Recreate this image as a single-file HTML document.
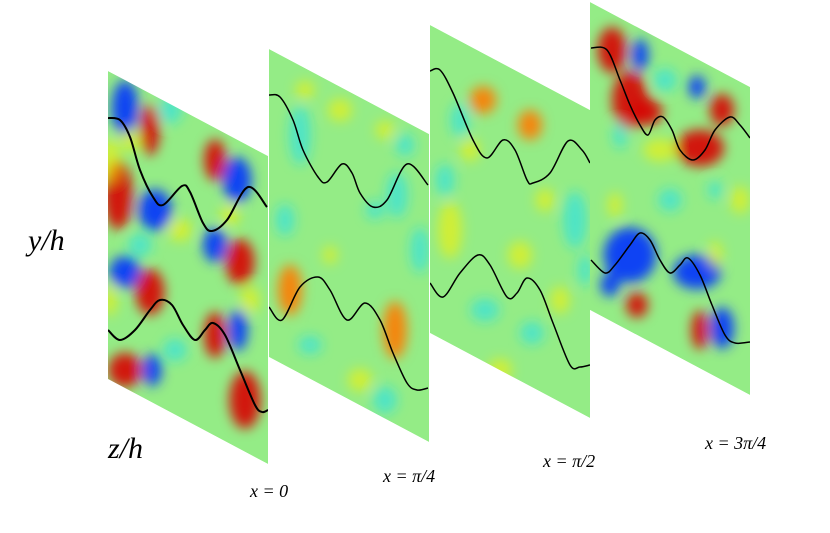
<!DOCTYPE html>
<html><head><meta charset="utf-8"><style>
html,body{margin:0;padding:0;background:#fff;width:830px;height:533px;overflow:hidden}
svg text{font-family:"Liberation Serif",serif;font-style:italic;fill:#000}
</style></head><body>
<svg id="fig" width="830" height="533" viewBox="0 0 830 533" xmlns="http://www.w3.org/2000/svg">
<defs>
<filter id="blur" x="-50%" y="-50%" width="200%" height="200%"><feGaussianBlur stdDeviation="6"/></filter>
</defs>
<g id="panels"></g>
<text x="28" y="250" font-size="30">y/h</text>
<text x="108" y="458" font-size="30">z/h</text>
<text x="250" y="497" font-size="18">x = 0</text>
<text x="383" y="482" font-size="18">x = π/4</text>
<text x="543" y="467" font-size="18">x = π/2</text>
<text x="705" y="449" font-size="18">x = 3π/4</text>
</svg>
<script>
const NS="http://www.w3.org/2000/svg";
const panelNames=["slice-x0","slice-x-pi4","slice-x-pi2","slice-x-3pi4"];
const panelLeft=[108,269,430,590];
const panelTop=[71,49,25,2];
const panelW=160, panelH=308, panelSkew=85;
const colors={r:"#d80000",o:"#ff7a00",y:"#f8f000",c:"#20e0f0",b:"#0030ff",d:"#0010c0"};
// blobs: [x,y,rx,ry,color]
const blobs=[
[[125,108,11,24,"b"],[150,130,8,22,"r"],[118,195,12,30,"r"],[110,160,8,20,"y"],[155,210,14,18,"b"],[215,160,9,18,"r"],[237,180,12,20,"b"],[215,245,10,15,"b"],[240,262,12,20,"r"],[125,272,13,14,"b"],[150,292,12,20,"r"],[125,370,14,15,"r"],[152,370,8,14,"b"],[215,335,9,20,"r"],[238,330,8,18,"b"],[245,400,13,25,"r"],[140,245,10,10,"c"],[180,230,10,10,"y"],[230,215,8,10,"y"],[170,110,10,12,"c"],[130,140,8,10,"y"],[250,300,8,12,"y"],[175,350,10,10,"c"],[110,300,6,14,"y"]],
[[300,135,9,26,"c"],[305,90,8,8,"y"],[385,130,8,8,"y"],[397,195,9,20,"c"],[290,290,10,22,"o"],[395,330,10,25,"o"],[385,400,10,12,"c"],[310,345,10,8,"c"],[375,210,8,8,"c"],[330,255,6,8,"y"],[340,110,10,10,"y"],[420,250,8,20,"c"],[285,220,8,14,"c"],[360,380,10,10,"y"],[405,145,8,10,"c"]],
[[483,100,11,12,"o"],[530,125,10,13,"o"],[485,310,12,10,"c"],[532,333,10,10,"c"],[450,230,10,25,"y"],[575,220,10,25,"c"],[460,120,8,15,"c"],[545,200,8,10,"y"],[520,255,10,12,"y"],[470,150,8,10,"y"],[560,300,8,12,"y"],[445,180,8,14,"c"],[585,270,6,14,"c"],[500,370,10,10,"y"]],
[[612,50,12,20,"r"],[630,100,15,25,"r"],[648,112,12,12,"r"],[700,148,20,16,"r"],[722,110,10,14,"r"],[640,55,7,14,"b"],[697,87,7,10,"b"],[620,135,6,12,"c"],[630,255,22,24,"b"],[697,272,20,15,"b"],[722,328,10,18,"b"],[637,305,9,11,"r"],[700,330,7,17,"r"],[615,205,6,11,"y"],[715,255,6,12,"y"],[715,190,6,8,"c"],[660,150,14,10,"y"],[610,285,8,10,"b"],[665,80,10,10,"c"],[740,200,8,12,"y"],[670,200,10,10,"c"],[610,350,10,12,"c"]]
];
const upperX=[[108,120,130,140,153,163,182,190,203,212,227,248,267],[269,280,293,303,318,327,342,352,360,373,387,407,428],[430,440,453,473,487,503,515,527,533,550,568,582,590],[591,607,620,630,640,648,655,663,672,680,693,705,715,730,740,750]];
const upperY=[[118,120,137,170,197,205,186,192,223,231,220,187,207],[95,97,120,150,177,182,164,173,193,207,200,164,185],[71,70,93,140,158,140,150,180,183,173,141,150,163],[48,50,80,105,125,135,120,117,130,150,160,150,130,117,125,138]];
const lowerX=[[108,120,135,150,160,172,183,195,205,213,225,240,255,262,268],[269,282,300,318,330,347,365,380,393,407,417,428],[430,443,460,478,490,507,517,527,540,553,570,580,590],[591,605,615,630,640,650,660,670,680,688,700,712,725,735,750]];
const lowerY=[[330,340,330,310,300,305,325,340,330,323,335,370,405,412,410],[307,320,287,277,290,320,303,320,353,383,390,388],[283,297,273,255,265,297,293,278,290,323,365,367,365],[260,273,265,245,233,240,260,273,265,258,275,305,335,343,342]];

const root=document.getElementById('panels');
function smoothPath(xs,ys){
  let d="M"+xs[0]+","+ys[0];
  for(let i=0;i<xs.length-1;i++){
    const x0=xs[Math.max(i-1,0)],y0=ys[Math.max(i-1,0)],x1=xs[i],y1=ys[i],x2=xs[i+1],y2=ys[i+1],x3=xs[Math.min(i+2,xs.length-1)],y3=ys[Math.min(i+2,xs.length-1)];
    d+=" C"+(x1+(x2-x0)/6)+","+(y1+(y2-y0)/6)+" "+(x2-(x3-x1)/6)+","+(y2-(y3-y1)/6)+" "+x2+","+y2;
  }
  return d;
}
for(let p=0;p<4;p++){
  const L=panelLeft[p],T=panelTop[p];
  const pts=[[L,T],[L+panelW,T+panelSkew],[L+panelW,T+panelSkew+panelH],[L,T+panelH]].map(a=>a.join(",")).join(" ");
  const cp=document.createElementNS(NS,"clipPath");cp.setAttribute("id","clip"+p);
  const cpp=document.createElementNS(NS,"polygon");cpp.setAttribute("points",pts);cp.appendChild(cpp);
  root.appendChild(cp);
  const g=document.createElementNS(NS,"g");
  
  
  g.setAttribute("clip-path","url(#clip"+p+")");
  const bg=document.createElementNS(NS,"polygon");bg.setAttribute("points",pts);bg.setAttribute("fill","#94ec86");
  g.appendChild(bg);
  const bl=document.createElementNS(NS,"g");bl.setAttribute("filter","url(#blur)");
  blobs[p].forEach(b=>{
    const e=document.createElementNS(NS,"ellipse");
    
    
    e.setAttribute("cx",b[0]);e.setAttribute("cy",b[1]);e.setAttribute("rx",b[2]*1.2);e.setAttribute("ry",b[3]*1.15);
    e.setAttribute("fill",colors[b[4]]);e.setAttribute("opacity",(b[4]=="y"||b[4]=="c")?0.6:0.9);
    bl.appendChild(e);
  });
  g.appendChild(bl);
  [[upperX[p],upperY[p],"upper-contour"],[lowerX[p],lowerY[p],"lower-contour"]].forEach(c=>{
    const path=document.createElementNS(NS,"path");
    
    
    path.setAttribute("d",smoothPath(c[0],c[1]));
    path.setAttribute("fill","none");path.setAttribute("stroke","#000");path.setAttribute("stroke-width",p==0?2:1.5);
    g.appendChild(path);
  });
  root.appendChild(g);
}
</script>
</body></html>
